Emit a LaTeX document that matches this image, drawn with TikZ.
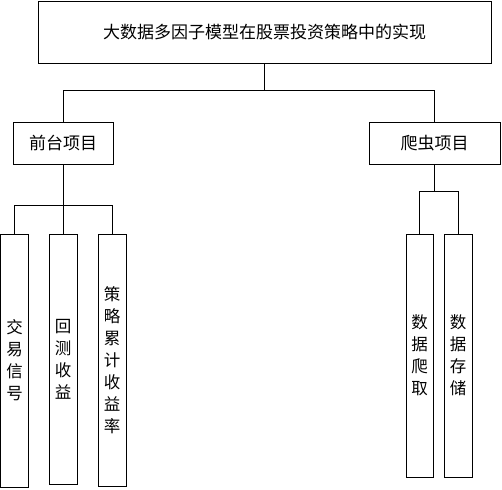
\documentclass[tikz,border=0pt]{standalone}
\usepackage{fontspec}
\newfontfamily\cjk{Noto Sans CJK SC}
\usepackage{tikz}
\usetikzlibrary{positioning}
\tikzstyle{process} = [rectangle, draw=black, line width=0.8pt, inner sep=0pt, text centered, font=\cjk\fontsize{17}{20}\selectfont]
\tikzstyle{leaf} = [process, minimum width=28pt, align=center, font=\cjk\fontsize{16.5}{22}\selectfont]
\tikzstyle{link} = [line width=0.8pt]

\begin{document}
\begin{tikzpicture}[x=1pt, y=-1pt]
\useasboundingbox (0,0) rectangle (502,489);
\node (root) [process, minimum width=453pt, minimum height=62pt] at (264.5,32) {大数据多因子模型在股票投资策略中的实现};
\node (front) [process, minimum width=100pt, minimum height=42pt] at (63,143) {前台项目};
\node (crawl) [process, minimum width=131pt, minimum height=42pt] at (434.5,143) {爬虫项目};
\node (signal) [leaf, minimum height=253pt] at (14.5,360.5) {交\\易\\信\\号};
\node (back) [leaf, minimum height=250pt] at (63,359) {回\\测\\收\\益};
\node (cum) [leaf, minimum height=252pt] at (112,360) {策\\略\\累\\计\\收\\益\\率};
\node (fetch) [leaf, minimum width=27pt, minimum height=243pt] at (419.5,355.5) {数\\据\\爬\\取};
\node (store) [leaf, minimum height=243pt] at (458,355.5) {数\\据\\存\\储};
\coordinate (cont1) at (264.5,90);
\coordinate (cont2) at (63,205);
\coordinate (cont3) at (434.5,191);
\draw [link] (root.south) -- (cont1);
\draw [link] (cont1) -| (front.north);
\draw [link] (cont1) -| (crawl.north);
\draw [link] (front.south) -- (cont2);
\draw [link] (cont2) -| (signal.north);
\draw [link] (cont2) -- (back.north);
\draw [link] (cont2) -| (cum.north);
\draw [link] (crawl.south) -- (cont3);
\draw [link] (cont3) -| (fetch.north);
\draw [link] (cont3) -| (store.north);
\end{tikzpicture}
\end{document}
